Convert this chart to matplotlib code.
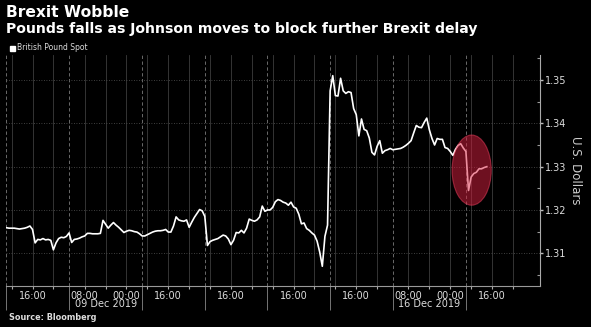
import numpy as np
import matplotlib
matplotlib.use("Agg")
from matplotlib import pyplot as plt
from matplotlib.patches import Ellipse, Rectangle
from matplotlib.ticker import MultipleLocator

# GBP/USD spot, one value per trading hour, starting Thu 5 Dec 2019 22:00 London
gbp_usd = [
    1.3159, 1.3158, 1.3158, 1.3158, 1.3157, 1.3156, 1.3157, 1.3158, 1.3160, 1.3163,
    1.3155, 1.3124, 1.3132, 1.3131, 1.3134, 1.3131, 1.3132, 1.3130, 1.3108, 1.3124,
    1.3134, 1.3137, 1.3136, 1.3139, 1.3147, 1.3125, 1.3132, 1.3133, 1.3135, 1.3138,
    1.3140, 1.3146, 1.3146, 1.3145, 1.3145, 1.3145, 1.3146, 1.3176, 1.3167, 1.3158,
    1.3165, 1.3171, 1.3165, 1.3160, 1.3154, 1.3148, 1.3151, 1.3153, 1.3152, 1.3150,
    1.3149, 1.3145, 1.3140, 1.3140, 1.3143, 1.3146, 1.3149, 1.3151, 1.3152, 1.3152,
    1.3153, 1.3155, 1.3149, 1.3149, 1.3163, 1.3184, 1.3177, 1.3175, 1.3174, 1.3177,
    1.3160, 1.3172, 1.3183, 1.3192, 1.3201, 1.3198, 1.3185, 1.3118, 1.3127, 1.3130,
    1.3132, 1.3134, 1.3138, 1.3142, 1.3140, 1.3133, 1.3120, 1.3130, 1.3148, 1.3147,
    1.3153, 1.3147, 1.3158, 1.3179, 1.3176, 1.3174, 1.3177, 1.3184, 1.3209,
    1.3197, 1.3200, 1.3200, 1.3206, 1.3219, 1.3224, 1.3222, 1.3218, 1.3216, 1.3211,
    1.3218, 1.3207, 1.3204, 1.3190, 1.3168, 1.3170, 1.3157, 1.3153, 1.3147, 1.3142,
    1.3128, 1.3103, 1.3070, 1.3139, 1.3165, 1.3475, 1.3510, 1.3464, 1.3463, 1.3504,
    1.3475, 1.3469, 1.3473, 1.3471, 1.3434, 1.3420, 1.3371, 1.3410, 1.3386, 1.3383,
    1.3366, 1.3333, 1.3327, 1.3347, 1.3360, 1.3331, 1.3337, 1.3339, 1.3342, 1.3339,
    1.3340, 1.3341, 1.3342, 1.3345, 1.3349, 1.3354, 1.3360, 1.3378, 1.3395, 1.3391,
    1.3390, 1.3402, 1.3412, 1.3385, 1.3365, 1.3350, 1.3365, 1.3363, 1.3363, 1.3344,
    1.3342, 1.3335, 1.3326, 1.3340, 1.3349, 1.3353, 1.3343, 1.3335, 1.3245, 1.3276,
    1.3284, 1.3287, 1.3295, 1.3295, 1.3298, 1.3300,
]
hours = np.arange(len(gbp_usd))

# session boundaries (trading hours, weekends collapsed)
session_bounds = [0, 24, 52, 76, 100, 124, 148, 176]
# 8 hourly grid, labelled in HK time
grid_hours = [2, 10, 18, 30, 38, 46, 54, 62, 70, 78, 86, 94, 102, 110, 118,
              126, 134, 142, 154, 162, 170, 178, 186, 194]
grid_labels = {10: "16:00", 30: "08:00", 46: "00:00", 62: "16:00", 86: "16:00",
               110: "16:00", 134: "16:00", 154: "08:00", 170: "00:00", 186: "16:00"}
date_labels = [(38, "09 Dec 2019"), (162, "16 Dec 2019")]

# highlighted drop on 17 Dec
circle_hour, circle_price = 178.2, 1.3292
circle_w, circle_h = 15.0, 0.0162

W, H = 591, 327
fig = plt.figure(figsize=(W / 100, H / 100), dpi=100, facecolor="black")
ax = fig.add_axes([6.4 / W, 1 - 285.7 / H, (539.8 - 6.4) / W, (285.7 - 55) / H])
ax.set_facecolor("black")

ax.plot(hours, gbp_usd, color="white", lw=1.2, zorder=3)

ax.add_patch(Ellipse((circle_hour, circle_price), circle_w, circle_h,
                     facecolor="#dc2040", edgecolor="#f04060", lw=0.8,
                     alpha=0.5, zorder=4))

ax.set_xlim(0, 204.3)
ax.set_ylim(1.30252, 1.35577)

ax.set_xticks(session_bounds)
ax.set_xticklabels([""] * len(session_bounds))
ax.set_xticks(grid_hours, minor=True)
ax.set_xticklabels([grid_labels.get(h, "") for h in grid_hours], minor=True)
ax.tick_params(axis="x", which="major", length=17.5, width=0.6, color="#888")
ax.tick_params(axis="x", which="minor", length=2, width=0.8, color="#aaa",
               labelsize=7, labelcolor="#ddd", pad=1.5)

ax.yaxis.tick_right()
ax.yaxis.set_major_locator(MultipleLocator(0.01))
ax.yaxis.set_minor_locator(MultipleLocator(0.005))
ax.yaxis.set_major_formatter(lambda v, p: f"{v:.2f}")
ax.tick_params(axis="y", which="major", length=2, width=1, color="#bbb",
               labelsize=7, labelcolor="#ddd", pad=1.5)
ax.tick_params(axis="y", which="minor", length=2, width=0.8, color="#999",
               direction="in")

ax.grid(axis="y", which="major", color="#555", lw=0.6, ls=(0, (1, 2)))
ax.grid(axis="x", which="major", color="#7a7a7a", lw=0.6, ls=(0, (4, 3)))
ax.grid(axis="x", which="minor", color="#3c3c3c", lw=0.6, ls="-")

for s in ["top", "left"]:
    ax.spines[s].set_visible(False)
ax.spines["right"].set_color("#aaa")
ax.spines["bottom"].set_color("#999")
ax.spines["bottom"].set_linewidth(0.8)

for h, txt in date_labels:
    ax.text(h, -0.0806, txt, transform=ax.get_xaxis_transform(),
            ha="center", va="center", fontsize=7, color="#ddd")

fig.text(575 / W, 1 - 170.7 / H, "U.S. Dollars", rotation=270, ha="center",
         va="center", fontsize=8.5, color="#ccc")

fig.text(6 / W, 1 - 16.7 / H, "Brexit Wobble", fontsize=11.2, weight="bold",
         color="white", va="baseline")
fig.text(6 / W, 1 - 33 / H, "Pounds falls as Johnson moves to block further Brexit delay",
         fontsize=10.1, weight="bold", color="white", va="baseline")

fig.add_artist(Rectangle((10 / W, 1 - 50.5 / H), 5 / W, 5 / H,
                         transform=fig.transFigure, color="white"))
fig.text(17 / W, 1 - 47.8 / H, "British Pound Spot", fontsize=5.5,
         color="#ddd", va="center")

fig.text(9 / W, 1 - 320 / H, "Source: Bloomberg", fontsize=5.9, weight="bold",
         color="#ddd", va="baseline")

fig.savefig("out.png", dpi=100, facecolor="black")
